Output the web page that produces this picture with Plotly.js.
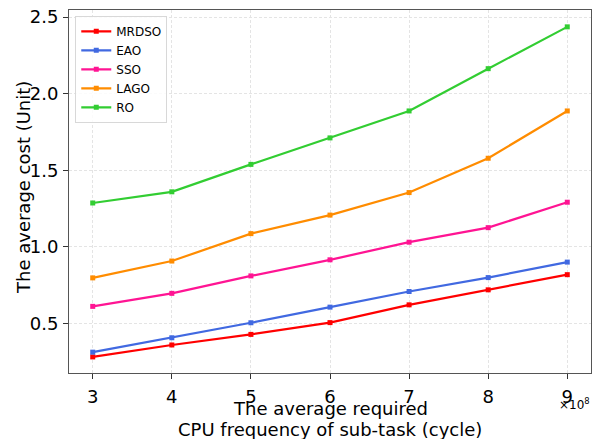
<!DOCTYPE html>
<html><head><meta charset="utf-8">
<script src="https://cdn.plot.ly/plotly-3.0.1.min.js"></script>
<style>html,body{margin:0;padding:0;background:#fff}#c{width:600px;height:439px}</style>
</head><body><div id="c"></div>
<script>
const xVals = [3, 4, 5, 6, 7, 8, 9];
const seriesNames = ["MRDSO", "EAO", "SSO", "LAGO", "RO"];
const MRDSO = [0.281, 0.359, 0.428, 0.505, 0.621, 0.719, 0.818];
const EAO = [0.312, 0.406, 0.504, 0.606, 0.708, 0.799, 0.900];
const SSO = [0.611, 0.696, 0.810, 0.915, 1.030, 1.125, 1.291];
const LAGO = [0.797, 0.907, 1.086, 1.207, 1.354, 1.578, 1.887];
const RO = [1.286, 1.359, 1.538, 1.711, 1.887, 2.163, 2.436];
const xTickLabels = ["3", "4", "5", "6", "7", "8", "9"];
const yTicks = [0.5, 1.0, 1.5, 2.0, 2.5];
const yTickLabels = ["0.5", "1.0", "1.5", "2.0", "2.5"];
const xTitleLines = ["The average required", "CPU frequency of sub-task (cycle)"];
const yTitle = "The average cost (Unit)";

const colors = ["#ff0000", "#4169e1", "#ff1493", "#ff8c00", "#32cd32"];
const allY = [MRDSO, EAO, SSO, LAGO, RO];
const traces = seriesNames.map((n, i) => ({
  x: xVals, y: allY[i], name: n, type: "scatter", mode: "lines+markers",
  line: {color: colors[i], width: 2.2},
  marker: {symbol: "square", size: 5, color: colors[i]}
}));

const FONT = "DejaVu Sans";
const axisCommon = {
  showline: true, linecolor: "#555", linewidth: 1, mirror: true,
  ticks: "outside", ticklen: 5, tickcolor: "#333", tickwidth: 1,
  showgrid: true, gridcolor: "#e4e4e4", griddash: "3px,2px", gridwidth: 1,
  zeroline: false, tickfont: {family: FONT, size: 18, color: "#000"}
};

const H = 363, B = 373, L = 69, W = 522;
const py = p => (B - p) / H;
const px = p => (p - L) / W;

const layout = {
  width: 600, height: 439,
  margin: {l: 69, r: 9, t: 10, b: 66},
  paper_bgcolor: "#fff", plot_bgcolor: "#fff",
  showlegend: true,
  legend: {x: 0.012, y: 0.984, xanchor: "left", yanchor: "top",
    bgcolor: "rgba(255,255,255,0.85)", bordercolor: "#d8d8d8", borderwidth: 1,
    font: {family: FONT, size: 12, color: "#000"}, itemwidth: 30, tracegroupgap: 0},
  xaxis: Object.assign({}, axisCommon, {
    range: [2.7, 9.3], tickvals: xVals, ticktext: xTickLabels, ticklabelstandoff: 2
  }),
  yaxis: Object.assign({}, axisCommon, {
    range: [0.176, 2.546], tickvals: yTicks, ticktext: yTickLabels, ticklabelstandoff: 1
  }),
  annotations: [
    {text: xTitleLines[0], xref: "paper", yref: "paper", x: 0.5, y: py(408),
      xanchor: "center", yanchor: "middle", showarrow: false,
      font: {family: FONT, size: 18, color: "#000"}},
    {text: xTitleLines[1], xref: "paper", yref: "paper", x: 0.5, y: py(429),
      xanchor: "center", yanchor: "middle", showarrow: false,
      font: {family: FONT, size: 18, color: "#000"}},
    {text: yTitle, xref: "paper", yref: "paper", x: px(24), y: py(188),
      xanchor: "center", yanchor: "middle", showarrow: false, textangle: -90,
      font: {family: FONT, size: 18, color: "#000"}},
    {text: "×10<sup>8</sup>", xref: "paper", yref: "paper", x: px(592), y: py(404),
      xanchor: "right", yanchor: "middle", showarrow: false,
      font: {family: FONT, size: 12, color: "#000"}}
  ]
};
Plotly.newPlot("c", traces, layout, {displayModeBar: false, staticPlot: true});
</script></body></html>
